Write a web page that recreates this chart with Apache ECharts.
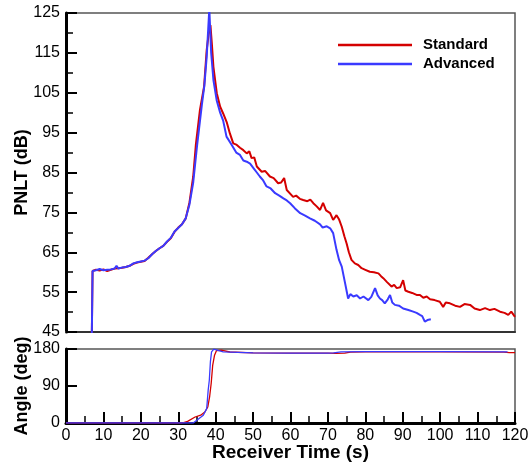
<!DOCTYPE html>
<html>
<head>
<meta charset="utf-8">
<script src="https://cdn.jsdelivr.net/npm/echarts@6/dist/echarts.min.js"></script>
<style>
	html, body { margin: 0; padding: 0; background: #fff; }
	#chart { width: 528px; height: 464px; }
</style>
</head>
<body>
<div id="chart"></div>
<script>
// x axis ticks (receiver time, s)
var timeMin = 0, timeMax = 120, timeStep = 10;
var pnltMin = 45, pnltMax = 125, pnltStep = 10;
var angleTicks = [0, 90, 180];

// PNLT (dB) vs time, [t, value]
var stdPnlt = [
	[6.9, 44], [7.1, 60.3], [8, 60.6], [9, 60.4], [10, 60.7], [11, 60.3], [12, 60.6], [13, 60.9],
	[14, 61.0], [15, 61.1], [16, 61.3], [17, 61.6], [18, 62.1], [19, 62.4], [20, 62.6], [21, 62.8],
	[22, 63.6], [23, 64.5], [24, 65.3], [25, 66.0], [26, 66.6], [27, 67.6], [28, 68.5], [29, 70.1],
	[30, 71.2], [31, 72.0], [32, 73.5], [33, 77.5], [34, 84.0], [34.7, 91.9], [35.8, 100.7],
	[36.9, 106.5], [37.6, 115.7], [38.1, 119.5], [38.6, 122.0], [39.0, 117], [39.4, 111.5],
	[40.3, 104.9], [41.2, 101.5], [42.0, 99.8], [43.0, 97.5], [43.8, 94.8], [44.7, 92.3],
	[45.5, 92.0], [46.5, 91.2], [47.4, 90.6], [48.3, 89.8], [49.0, 90.3], [49.6, 88.6],
	[50.3, 88.8], [51.0, 86.5], [52.3, 85.2], [53.2, 85.4], [54.5, 84.0], [55.5, 83.6],
	[56.7, 82.3], [57.5, 82.5], [58.3, 83.6], [59.0, 80.6], [60.7, 78.9], [61.5, 79.2],
	[62.5, 78.4], [63.4, 78.1], [64.5, 77.8], [65.3, 78.2], [66.1, 77.3], [67.0, 76.5],
	[67.9, 75.6], [68.7, 77.4], [69.5, 75.5], [70.6, 74.8], [71.4, 73.1], [72.3, 74.3],
	[73.0, 73.2], [73.7, 71.4], [74.4, 69.0], [75.0, 67.2], [75.6, 65.0], [76.3, 63.1],
	[77.2, 62.2], [78.1, 61.8], [79.0, 61.0], [80.0, 60.6], [81.2, 60.1], [82.3, 60.0],
	[83.5, 59.7], [84.2, 59.0], [84.8, 58.5], [85.8, 57.5], [87.0, 56.4], [87.7, 56.8],
	[88.4, 56.0], [89.3, 56.2], [90.1, 58.0], [90.7, 55.4], [91.5, 55.1], [92.5, 54.8],
	[93.7, 54.3], [94.6, 54.3], [95.5, 53.6], [96.4, 53.9], [97.3, 53.2], [98.5, 53.0],
	[99.9, 52.6], [100.8, 51.3], [101.5, 52.4], [102.6, 52.2], [104.0, 51.6], [105.3, 51.3],
	[106.5, 52.0], [108.0, 51.8], [109.2, 50.9], [110.6, 50.5], [112.0, 51.0], [113.3, 50.5],
	[114.5, 50.8], [116.0, 50.1], [117.2, 49.8], [118.2, 49.3], [119.0, 50.1], [120.0, 48.8]
];
var advPnlt = [
	[6.9, 44], [7.1, 60.3], [8, 60.5], [9, 60.8], [10, 60.5], [11, 60.6], [12, 60.7], [13, 60.9],
	[13.5, 61.6], [14, 60.9], [15, 61.2], [16, 61.3], [17, 61.6], [18, 62.2], [19, 62.5],
	[20, 62.7], [21, 62.9], [22, 63.5], [23, 64.5], [24, 65.3], [25, 66.0], [26, 66.6],
	[27, 67.7], [28, 68.6], [29, 70.2], [30, 71.1], [31, 72.0], [32, 73.5], [33, 77.0],
	[34, 82.5], [35.0, 91.5], [36.3, 101.9], [37.0, 107], [37.6, 114], [38.3, 126],
	[38.8, 115], [39.4, 108.2], [40.3, 103], [41.2, 100], [42.0, 98.0], [42.9, 94.0],
	[44.3, 91.9], [45.5, 90.0], [46.5, 89.4], [47.4, 88.0], [48.3, 87.7], [49.2, 87.2],
	[50.1, 86.1], [51.0, 85.0], [51.8, 84.0], [52.7, 83.0], [53.6, 81.5], [54.7, 81.0],
	[55.9, 79.8], [57.0, 79.2], [58.1, 78.5], [59.0, 78.0], [59.9, 77.3], [61.2, 76.0],
	[62.6, 74.8], [63.9, 74.2], [65.2, 73.5], [66.5, 72.9], [67.9, 72.0], [68.6, 71.2],
	[69.7, 71.5], [70.6, 71.0], [71.4, 69.8], [72.3, 65.6], [73.0, 63.0], [73.7, 61.4],
	[74.6, 57.2], [75.4, 53.4], [76.0, 54.5], [76.8, 53.9], [77.7, 54.2], [78.6, 53.4],
	[79.5, 53.9], [80.8, 53.0], [81.6, 53.8], [82.6, 56.0], [83.3, 54.2], [83.9, 53.4],
	[84.5, 53.0], [85.2, 52.2], [86.0, 53.2], [86.6, 54.3], [87.2, 52.4], [87.9, 51.8],
	[89.0, 51.6], [90.1, 50.9], [91.5, 50.5], [92.8, 50.1], [93.7, 49.8], [94.6, 49.3],
	[95.2, 49.0], [95.9, 47.6], [96.6, 48.0], [97.5, 48.2]
];

// emission angle (deg) vs time, [t, value]
var stdAngle = [
	[0, 0], [31, 0], [32.5, 4], [34.5, 14.6], [36.0, 19], [37.1, 26.8], [37.9, 39], [38.4, 65],
	[38.8, 96], [39.2, 140], [39.7, 165], [40.2, 176], [40.7, 179.5], [41.5, 177], [43.8, 172.7],
	[50, 170.5], [60, 170], [70, 170], [72, 169.5], [74.5, 170], [76, 172.5], [80, 173],
	[100, 173], [117, 172.5], [118.5, 171], [120, 171]
];
var advAngle = [
	[0, 0], [34, 0], [36.7, 19], [37.6, 35], [38.0, 80], [38.3, 104], [38.6, 150], [38.9, 173],
	[39.5, 179.5], [40.0, 180], [42.0, 173], [50, 170.5], [60, 170], [70, 170], [71.5, 170.5],
	[73.5, 173], [80, 173.5], [100, 173.5], [118, 173]
];

var FONT = 'Liberation Sans, Arial, sans-serif';
var RED = '#d40000';
var BLUE = '#3a3aff';

var chart = echarts.init(document.getElementById('chart'), null, { renderer: 'canvas' });

function yAxisBase() {
	return {
		nameLocation: 'middle',
		nameRotate: 90,
		nameMoveOverlap: false,
		nameTextStyle: { fontFamily: FONT, fontSize: 18, fontWeight: 'bold', color: '#000' },
		axisLine: { show: true, lineStyle: { color: '#000', width: 3 } },
		axisTick: { show: true, inside: true, length: 11, lineStyle: { color: '#000', width: 2 } },
		axisLabel: { fontFamily: FONT, fontSize: 16, color: '#000', margin: 6 },
		splitLine: { show: false }
	};
}

var option = {
	backgroundColor: '#fff',
	animation: false,
	grid: [
		{ left: 66, right: 13, top: 13, height: 319, show: true, borderColor: '#555', borderWidth: 1.5,
			containLabel: false, outerBoundsMode: 'none' },
		{ left: 66, right: 13, top: 349, height: 74, show: true, borderColor: '#555', borderWidth: 1.5,
			containLabel: false, outerBoundsMode: 'none' }
	],
	legend: {
		orient: 'vertical',
		left: 333,
		top: 32,
		icon: 'rect',
		itemWidth: 74,
		itemHeight: 2.5,
		itemGap: 3,
		textStyle: { fontFamily: FONT, fontSize: 15, fontWeight: 'bold', color: '#000', lineHeight: 16, padding: [0, 0, 0, 6] },
		data: ['Standard', 'Advanced']
	},
	xAxis: [
		{
			gridIndex: 0, type: 'value', min: timeMin, max: timeMax, interval: timeStep,
			axisLine: { show: true, lineStyle: { color: '#333', width: 2 } },
			axisTick: { show: false }, axisLabel: { show: false }, splitLine: { show: false }
		},
		{
			gridIndex: 1, type: 'value', min: timeMin, max: timeMax, interval: timeStep,
			name: 'Receiver Time (s)', nameLocation: 'middle', nameGap: 20, nameMoveOverlap: false,
			nameTextStyle: { fontFamily: FONT, fontSize: 19, fontWeight: 'bold', color: '#000' },
			axisLine: { show: true, lineStyle: { color: '#000', width: 3 } },
			axisTick: { show: true, inside: true, length: 11, lineStyle: { color: '#000', width: 2 } },
			minorTick: { show: true, splitNumber: 2, length: 7, lineStyle: { color: '#000', width: 1.5 } },
			axisLabel: { fontFamily: FONT, fontSize: 16, color: '#000', margin: 5 },
			splitLine: { show: false }
		}
	],
	yAxis: [
		Object.assign(yAxisBase(), {
			gridIndex: 0, type: 'value', min: pnltMin, max: pnltMax, interval: pnltStep,
			name: 'PNLT (dB)', nameGap: 35,
			minorTick: { show: true, splitNumber: 2, length: 7, lineStyle: { color: '#000', width: 1.5 } }
		}),
		Object.assign(yAxisBase(), {
			gridIndex: 1, type: 'value', min: angleTicks[0], max: angleTicks[2], interval: angleTicks[1],
			name: 'Angle (deg)', nameGap: 35
		})
	],
	series: [
		{ name: 'Standard', type: 'line', xAxisIndex: 0, yAxisIndex: 0, data: stdPnlt, showSymbol: false,
			lineStyle: { color: RED, width: 2 }, itemStyle: { color: RED }, z: 3 },
		{ name: 'Advanced', type: 'line', xAxisIndex: 0, yAxisIndex: 0, data: advPnlt, showSymbol: false,
			lineStyle: { color: BLUE, width: 2 }, itemStyle: { color: BLUE }, z: 4 },
		{ name: 'Standard', type: 'line', xAxisIndex: 1, yAxisIndex: 1, data: stdAngle, showSymbol: false,
			lineStyle: { color: RED, width: 1.3 }, itemStyle: { color: RED }, z: 3 },
		{ name: 'Advanced', type: 'line', xAxisIndex: 1, yAxisIndex: 1, data: advAngle, showSymbol: false,
			lineStyle: { color: BLUE, width: 1.3 }, itemStyle: { color: BLUE }, z: 4 }
	]
};

chart.setOption(option);
window.addEventListener('resize', function() {
	chart.resize();
});
</script>
</body>
</html>
